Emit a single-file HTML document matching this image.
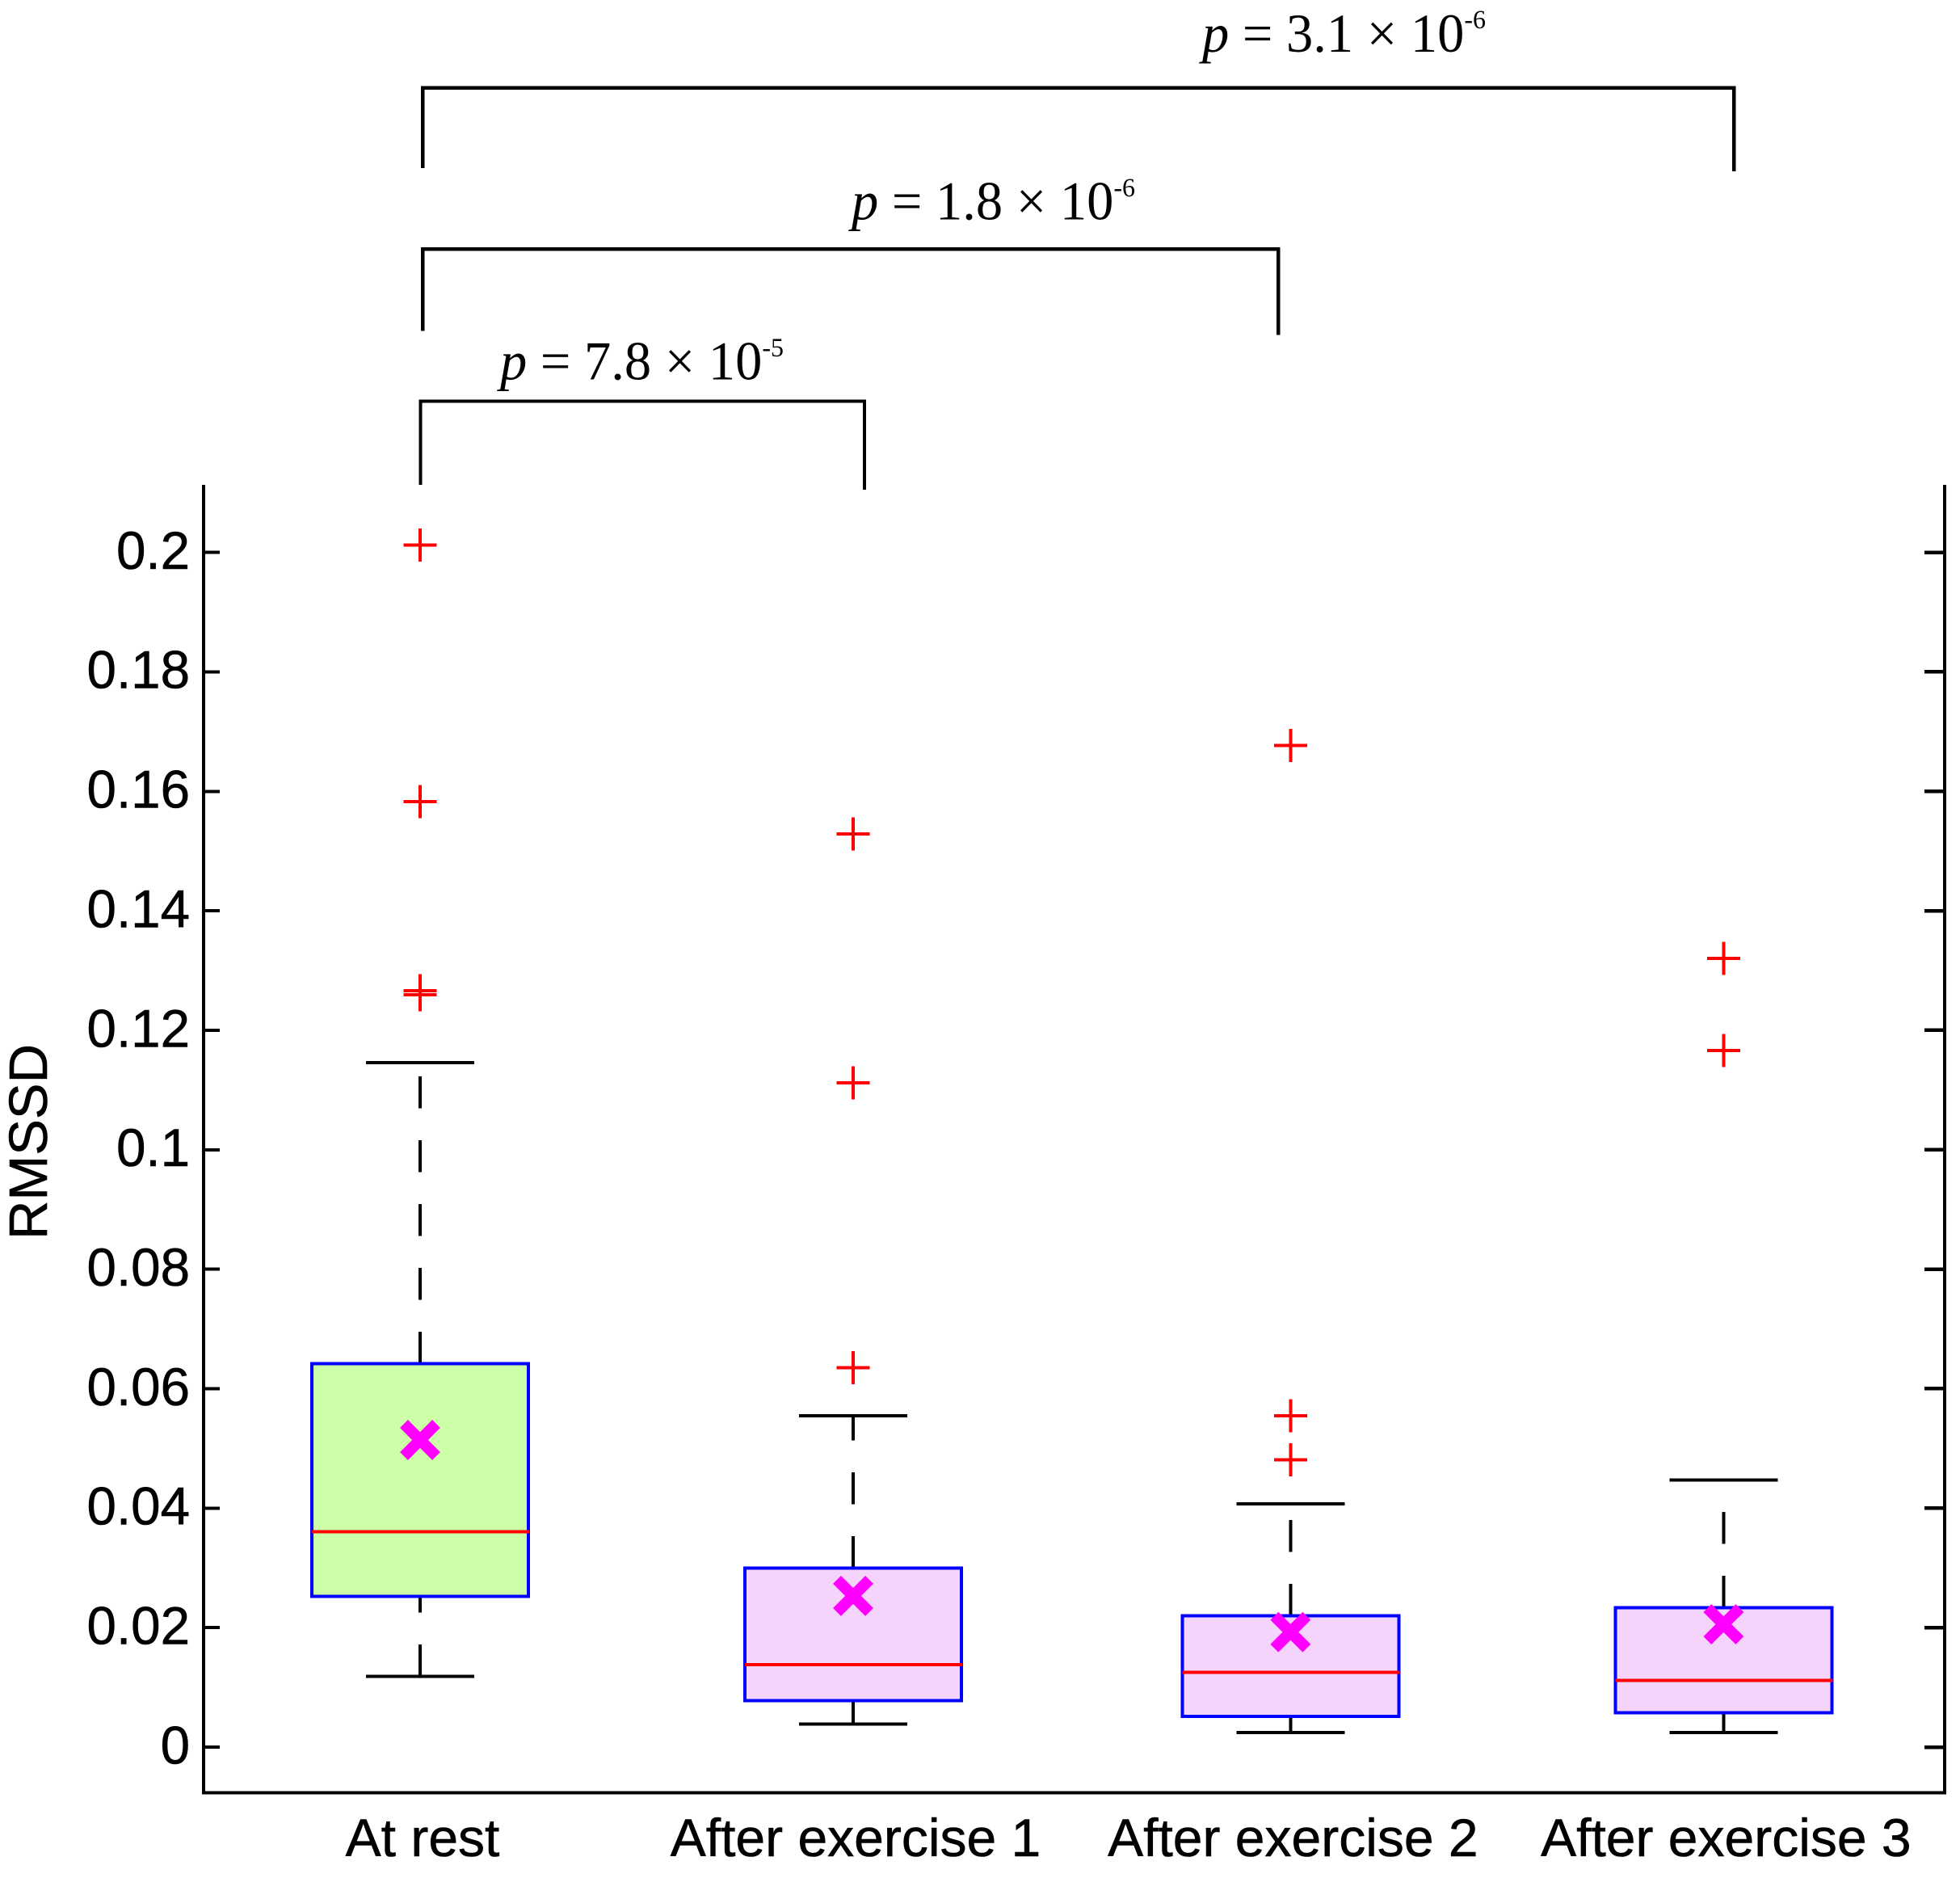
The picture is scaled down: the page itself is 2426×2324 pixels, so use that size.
<!DOCTYPE html>
<html lang="en">
<head>
<meta charset="utf-8">
<title>RMSSD box plot</title>
<style>
  html, body { margin: 0; padding: 0; background: #fff; }
  #chart { display: block; position: absolute; left: 0; top: 0; }
  .sans { font-family: "Liberation Sans", Arial, sans-serif; fill: #000; stroke: #000; stroke-width: 0.6px; }
  .serif { font-family: "Liberation Serif", "Times New Roman", serif; fill: #000; }
</style>
</head>
<body>
<svg id="chart" xmlns="http://www.w3.org/2000/svg" width="2426" height="2324" viewBox="0 0 2426 2324">
  <rect x="0" y="0" width="2426" height="2324" fill="#ffffff"/>

  <g id="annotations" fill="none" stroke="#000" shape-rendering="crispEdges">
    <path d="M523 208V108.7H2146V212" stroke-width="4.5"/>
    <path d="M523 409.7V308H1582V414.3" stroke-width="4.5"/>
    <path d="M520.7 600V496.4H1070V606" stroke-width="4"/>
  </g>

  <text class="serif" transform="translate(1488 63.8) scale(1 1.02)" font-size="66.5" stroke="none"><tspan font-style="italic">p</tspan> = 3.1 × 10<tspan font-size="32" dy="-28">-6</tspan></text>
  <text class="serif" transform="translate(1054 271.4) scale(1 1.02)" font-size="66.5" stroke="none"><tspan font-style="italic">p</tspan> = 1.8 × 10<tspan font-size="32" dy="-28">-6</tspan></text>
  <text class="serif" transform="translate(619 469.4) scale(1 1.02)" font-size="66.5" stroke="none"><tspan font-style="italic">p</tspan> = 7.8 × 10<tspan font-size="32" dy="-28">-5</tspan></text>

  <text class="sans" transform="translate(58 1413) rotate(-90)" font-size="67" text-anchor="middle">RMSSD</text>

  <g id="axes"></g>
  <g id="boxes"></g>
</svg>

<script>
// Chart data
const categories = ["At rest", "After exercise 1", "After exercise 2", "After exercise 3"];
const groupPositions = [1, 2, 3.01, 4.01];
const upperQuartiles = [0.0642, 0.02994, 0.022, 0.02331];
const lowerQuartiles = [0.02526, 0.00777, 0.00514, 0.00576];
const medians = [0.03603, 0.01383, 0.01251, 0.01113];
const means = [0.05141, 0.02531, 0.01925, 0.02056];
const upperWhiskers = [0.11458, 0.05548, 0.04073, 0.04474];
const lowerWhiskers = [0.01182, 0.00383, 0.00245, 0.00245];
const outliers = [
  [0.20126, 0.15828, 0.12662, 0.12595],
  [0.15287, 0.1112, 0.06354],
  [0.16768, 0.05548, 0.04811],
  [0.13203, 0.11661]
];
const boxFills = ["#ccffa8", "#f5d4fc", "#f5d4fc", "#f5d4fc"];
const yTickValues = [0, 0.02, 0.04, 0.06, 0.08, 0.1, 0.12, 0.14, 0.16, 0.18, 0.2];
const yTickLabels = ["0", "0.02", "0.04", "0.06", "0.08", "0.1", "0.12", "0.14", "0.16", "0.18", "0.2"];

// Axis functions
function xScale(position) { return 520 + (position - 1) * 536; }
function yScale(value) { return 2162 - 7392 * value; }

const SVG_NS = "http://www.w3.org/2000/svg";
const axesGroup = document.getElementById("axes");
const boxesGroup = document.getElementById("boxes");

function makeEl(tag, parent, attrs) {
  const el = document.createElementNS(SVG_NS, tag);
  for (const key in attrs) el.setAttribute(key, attrs[key]);
  parent.appendChild(el);
  return el;
}

// Frame
const plotLeft = 252, plotRight = 2407, plotTop = 600, plotBottom = 2218.7;

const leftAxis = makeEl("line", axesGroup, { x1: plotLeft, x2: plotLeft, y1: plotTop, y2: plotBottom + 2, stroke: "#000", "stroke-width": 4, "shape-rendering": "crispEdges" });



const rightAxis = makeEl("line", axesGroup, { x1: plotRight, x2: plotRight, y1: plotTop, y2: plotBottom + 2, stroke: "#000", "stroke-width": 4, "shape-rendering": "crispEdges" });



const bottomAxis = makeEl("line", axesGroup, { x1: plotLeft - 2, x2: plotRight + 2, y1: plotBottom, y2: plotBottom, stroke: "#000", "stroke-width": 4, "shape-rendering": "crispEdges" });



// Y ticks and labels
yTickValues.forEach(function (value, i) {
  const y = yScale(value);

  const tickLeft = makeEl("line", axesGroup, { x1: plotLeft, x2: 272, y1: y, y2: y, stroke: "#000", "stroke-width": 4, "shape-rendering": "crispEdges" });
  
  

  const tickRight = makeEl("line", axesGroup, { x1: 2382, x2: plotRight, y1: y, y2: y, stroke: "#000", "stroke-width": 4.5, "shape-rendering": "crispEdges" });
  
  

  const label = makeEl("text", axesGroup, { x: 235, y: y + 20.3, "text-anchor": "end", "font-size": 65.5, class: "sans" });
  
  
  label.textContent = yTickLabels[i];
});

// Category labels
categories.forEach(function (name, i) {
  const label = makeEl("text", axesGroup, { x: xScale(groupPositions[i]) + 3, y: 2297, "text-anchor": "middle", "font-size": 66, class: "sans" });
  
  
  label.textContent = name;
});

// Boxes
const boxHalfWidth = 134;
const capHalfWidth = 67;
const plusHalfSize = 20.5;
const meanArm = 20;

categories.forEach(function (name, i) {
  const cx = xScale(groupPositions[i]);
  const yQ3 = yScale(upperQuartiles[i]);
  const yQ1 = yScale(lowerQuartiles[i]);
  const yMed = yScale(medians[i]);
  const yMean = yScale(means[i]);
  const yHi = yScale(upperWhiskers[i]);
  const yLo = yScale(lowerWhiskers[i]);

  const group = makeEl("g", boxesGroup, {});
  
  

  const upperStem = makeEl("line", group, { x1: cx, x2: cx, y1: yQ3, y2: yHi, stroke: "#000", "stroke-width": 4, "stroke-dasharray": "39.5 39.5", "shape-rendering": "crispEdges" });
  
  

  const lowerStem = makeEl("line", group, { x1: cx, x2: cx, y1: yLo, y2: yQ1, stroke: "#000", "stroke-width": 4, "stroke-dasharray": "39.5 39.5", "shape-rendering": "crispEdges" });
  
  

  const upperCap = makeEl("line", group, { x1: cx - capHalfWidth, x2: cx + capHalfWidth, y1: yHi, y2: yHi, stroke: "#000", "stroke-width": 4, "shape-rendering": "crispEdges" });
  
  

  const lowerCap = makeEl("line", group, { x1: cx - capHalfWidth, x2: cx + capHalfWidth, y1: yLo, y2: yLo, stroke: "#000", "stroke-width": 4, "shape-rendering": "crispEdges" });
  
  

  const box = makeEl("rect", group, { x: cx - boxHalfWidth, y: yQ3, width: boxHalfWidth * 2, height: yQ1 - yQ3, fill: boxFills[i], stroke: "#0000ff", "stroke-width": 4, "shape-rendering": "crispEdges" });
  
  

  const median = makeEl("line", group, { x1: cx - boxHalfWidth, x2: cx + boxHalfWidth + 1, y1: yMed, y2: yMed, stroke: "#ff0000", "stroke-width": 4, "shape-rendering": "crispEdges" });
  
  

  const meanMark = makeEl("path", group, {
    d: "M" + (cx - meanArm) + " " + (yMean - meanArm) + "L" + (cx + meanArm) + " " + (yMean + meanArm) +
       "M" + (cx + meanArm) + " " + (yMean - meanArm) + "L" + (cx - meanArm) + " " + (yMean + meanArm),
    stroke: "#ff00ff", "stroke-width": 14, fill: "none"
  });
  
  

  outliers[i].forEach(function (value) {
    const y = yScale(value);
    const plus = makeEl("path", group, {
      d: "M" + (cx - plusHalfSize) + " " + y + "H" + (cx + plusHalfSize) + "M" + cx + " " + (y - plusHalfSize) + "V" + (y + plusHalfSize),
      stroke: "#ff0000", "stroke-width": 4, fill: "none", "shape-rendering": "crispEdges"
    });
    
    
  });
});
</script>
</body>
</html>
